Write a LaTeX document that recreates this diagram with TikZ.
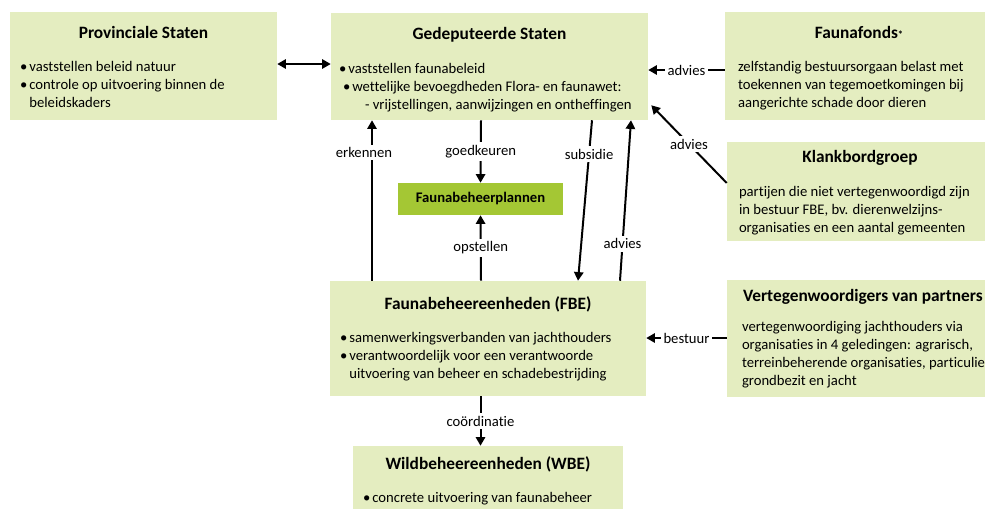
\documentclass[tikz,border=0pt]{standalone}
\usepackage{fontspec}
\setmainfont[Ligatures=NoCommon]{Carlito}
\usetikzlibrary{arrows.meta,calc,positioning}
\definecolor{boxgreen}{RGB}{228,237,192}
\definecolor{plangreen}{RGB}{164,199,52}

\newcommand{\bul}{\makebox[7pt][l]{\textbullet}}
\newcommand{\hang}{\hspace*{7pt}}

\begin{document}
\begin{tikzpicture}[
    x=0.75pt, y=-0.75pt,
    box/.style={rectangle, fill=boxgreen, inner sep=0pt},
    planbox/.style={rectangle, fill=plangreen, inner sep=0pt, font=\fontsize{11}{12}\selectfont\bfseries},
    title/.style={font=\fontsize{13}{15}\selectfont\bfseries, inner sep=0pt},
    body/.style={font=\fontsize{11}{13.5}\selectfont, align=left, anchor=north west, inner sep=0pt},
    arrow/.style={-{Triangle[length=6.5pt,width=7pt]}, line width=1.5pt},
    lbl/.style={fill=white, font=\fontsize{11}{12}\selectfont, inner sep=2pt}
]
    \clip (0,0) rectangle (985,508);

    % boxes
    \node[box, minimum width=200.25pt, minimum height=81pt] (ps) at (143.5,66) {};
    \node[box, minimum width=237.75pt, minimum height=80.25pt] (gs) at (489.5,66.5) {};
    \node[box, minimum width=201pt, minimum height=81pt] (ff) at (859,66) {};
    \node[box, minimum width=199.5pt, minimum height=74.25pt] (kbg) at (860,191.5) {};
    \node[planbox, minimum width=123.75pt, minimum height=24pt] (fbp) at (480.5,199) {Faunabeheerplannen};
    \node[box, minimum width=237pt, minimum height=86.25pt] (fbe) at (488,338.5) {};
    \node[box, minimum width=205.5pt, minimum height=87.75pt] (vp) at (864,338.5) {};
    \node[box, minimum width=202.5pt, minimum height=55.5pt] (wbe) at (488,483) {};

    % titles
    \node[title] (ps-title) at ($(ps.north)+(0,21)$) {Provinciale Staten};
    \node[title] (gs-title) at ($(gs.north)+(0,22)$) {Gedeputeerde Staten};
    \node[title] (ff-title) at ($(ff.north)+(0,21)$) {Faunafonds{\fontsize{8}{8}\selectfont*}};
    \node[title] (kbg-title) at ($(kbg.north)+(0,16)$) {Klankbordgroep};
    \node[title] (fbe-title) at ($(fbe.north)+(0,24)$) {Faunabeheereenheden (FBE)};
    \node[title, anchor=west] (vp-title) at ($(vp.north west)+(16,17)$) {Vertegenwoordigers van partners};
    \node[title] (wbe-title) at ($(wbe.north)+(0,19)$) {Wildbeheereenheden (WBE)};

    % texts
    \node[body] (ps-text) at ($(ps.north west)+(10,49)$) {\bul vaststellen beleid natuur\\ \bul controle op uitvoering binnen de\\ \hang beleidskaders};
    \node[body] (gs-text) at ($(gs.north west)+(8,50)$) {\bul vaststellen faunabeleid\\ \hspace*{3pt}\bul wettelijke bevoegdheden Flora- en faunawet:\\ \hspace*{19.5pt}- vrijstellingen, aanwijzingen en ontheffingen};
    \node[body] (ff-text) at ($(ff.north west)+(13,49)$) {zelfstandig bestuursorgaan belast met\\ toekennen van tegemoetkomingen bij\\ aangerichte schade door dieren};
    \node[body] (kbg-text) at ($(kbg.north west)+(12,44)$) {partijen die niet vertegenwoordigd zijn\\ in bestuur FBE, bv. dierenwelzijns-\\ organisaties en een aantal gemeenten};
    \node[body] (fbe-text) at ($(fbe.north west)+(10,51)$) {\bul samenwerkingsverbanden van jachthouders\\ \bul verantwoordelijk voor een verantwoorde\\ \hang uitvoering van beheer en schadebestrijding};
    \node[body] (vp-text) at ($(vp.north west)+(15,41)$) {vertegenwoordiging jachthouders via\\ organisaties in 4 geledingen: agrarisch,\\ terreinbeherende organisaties, particulier\\ grondbezit en jacht};
    \node[body] (wbe-text) at ($(wbe.north west)+(10,46)$) {\bul concrete uitvoering van faunabeheer};

    % connectors
    \draw[arrow, {Triangle[length=6.5pt,width=7pt]}-{Triangle[length=6.5pt,width=7pt]}] ($(ps.east)+(0,-2)$) -- ($(gs.west)+(0,-2.5)$);
    \draw[arrow] ($(ff.west)+(0,4)$) -- node[lbl] {advies} ($(gs.east)+(0,3.5)$);
    \draw[arrow] ($(kbg.west)+(0,-8.5)$) -- node[lbl] {advies} ($(gs.south east)+(3,-15)$);
    \draw[arrow] ($(vp.west)+(0,-0.5)$) -- node[lbl] {bestuur} ($(fbe.east)+(0,-0.5)$);
    \draw[arrow] ($(gs.south)+(-8.5,0)$) -- node[lbl] {goedkeuren} (fbp.north);
    \draw[arrow] ($(fbe.north)+(-7,0)$) -- node[lbl] {opstellen} (fbp.south);
    \draw[arrow] ($(fbe.north)+(-116,0)$) -- node[lbl, pos=0.8, xshift=-6pt] {erkennen} ($(gs.south)+(-117.5,0)$);
    \draw[arrow] ($(gs.south)+(102.5,0)$) -- node[lbl, pos=0.21] {subsidie} ($(fbe.north)+(90,0)$);
    \draw[arrow] ($(fbe.north)+(132,0)$) -- node[lbl, pos=0.23] {advies} ($(gs.south)+(141.5,0)$);
    \draw[arrow] (fbe.south -| fbp) -- node[lbl] {coördinatie} (wbe.north -| fbp);
\end{tikzpicture}
\end{document}
